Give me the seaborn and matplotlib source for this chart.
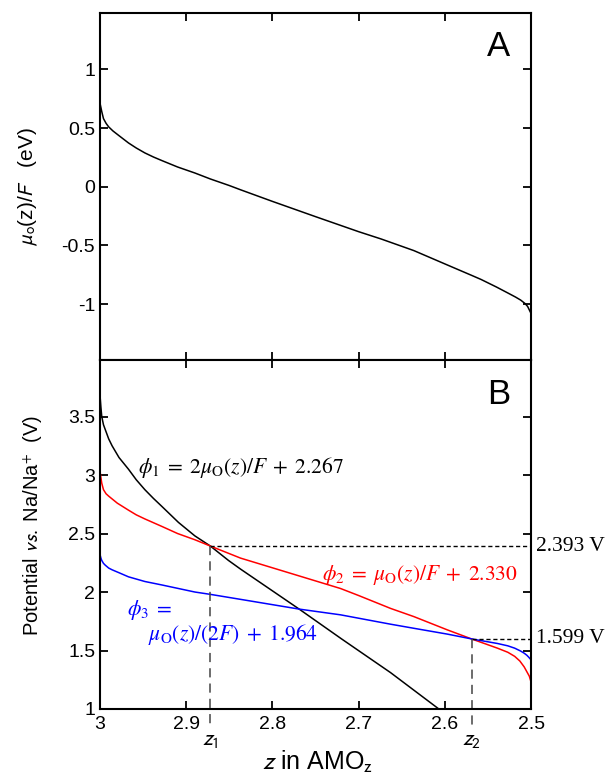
import numpy as np
import pandas as pd
import matplotlib
matplotlib.use("Agg")
import matplotlib.pyplot as plt
import seaborn as sns

# --- dados ---
# painel A: mu_O(z)/F
z_mu = [3.000, 2.998, 2.996, 2.993, 2.990, 2.985, 2.978, 2.967, 2.958, 2.948,
        2.938, 2.928, 2.910, 2.890, 2.872, 2.850, 2.837, 2.800, 2.750, 2.700,
        2.674, 2.636, 2.597, 2.569, 2.558, 2.540, 2.527, 2.518, 2.512, 2.507,
        2.504, 2.502, 2.500]
mu = [0.71, 0.64, 0.58, 0.54, 0.51, 0.475, 0.435, 0.373, 0.33, 0.288,
      0.253, 0.222, 0.168, 0.117, 0.066, 0.010, -0.026, -0.125, -0.255, -0.383,
      -0.445, -0.544, -0.667, -0.755, -0.79, -0.855, -0.905, -0.94, -0.966, -0.995,
      -1.02, -1.05, -1.08]

# painel B: phi1 (preto), phi2 (vermelho), phi3 (azul)
z_phi1 = [3.000, 2.999, 2.998, 2.996, 2.994, 2.990, 2.986, 2.978, 2.967, 2.958,
          2.948, 2.938, 2.928, 2.909, 2.890, 2.872, 2.851, 2.837, 2.800, 2.769,
          2.720, 2.663, 2.607, 2.600]
phi1 = [3.68, 3.58, 3.50, 3.43, 3.39, 3.31, 3.25, 3.15, 3.05, 2.96,
        2.875, 2.80, 2.73, 2.595, 2.48, 2.393, 2.27, 2.196, 2.01, 1.854,
        1.60, 1.311, 1.00, 0.96]

z_phi2 = [3.000, 2.999, 2.998, 2.996, 2.993, 2.990, 2.985, 2.980, 2.967, 2.958,
          2.948, 2.928, 2.910, 2.890, 2.872, 2.837, 2.779, 2.721, 2.700, 2.663,
          2.636, 2.597, 2.569, 2.539, 2.527, 2.519, 2.513, 2.508, 2.505, 2.502,
          2.500]
phi2 = [3.03, 2.98, 2.93, 2.875, 2.84, 2.82, 2.79, 2.76, 2.70, 2.66,
        2.625, 2.56, 2.50, 2.447, 2.393, 2.29, 2.16, 2.03, 1.97, 1.86,
        1.79, 1.676, 1.599, 1.52, 1.485, 1.45, 1.41, 1.36, 1.32, 1.28,
        1.23]

z_phi3 = [3.000, 2.999, 2.998, 2.996, 2.994, 2.990, 2.986, 2.978, 2.967, 2.948,
          2.928, 2.890, 2.872, 2.831, 2.769, 2.721, 2.663, 2.636, 2.597, 2.569,
          2.539, 2.527, 2.519, 2.512, 2.508, 2.505, 2.503, 2.500]
phi3 = [2.32, 2.29, 2.27, 2.245, 2.23, 2.205, 2.19, 2.165, 2.13, 2.09,
        2.06, 2.00, 1.98, 1.93, 1.854, 1.805, 1.725, 1.69, 1.64, 1.599,
        1.56, 1.54, 1.52, 1.495, 1.477, 1.46, 1.445, 1.42]

# pontos de cruzamento
z_cross = [2.872, 2.569]
v_cross = [2.393, 1.599]
cross_labels = ["2.393 V", "1.599 V"]
z_names = [r"$z_1$", r"$z_2$"]

x_ticks = [3, 2.9, 2.8, 2.7, 2.6, 2.5]
x_ticklabels = ["3", "2.9", "2.8", "2.7", "2.6", "2.5"]
ya_ticks = [-1, -0.5, 0, 0.5, 1]
ya_ticklabels = ["-1", "-0.5", "0", "0.5", "1"]
yb_ticks = [1, 1.5, 2, 2.5, 3, 3.5]
yb_ticklabels = ["1", "1.5", "2", "2.5", "3", "3.5"]

sns.set_style("ticks", {"xtick.direction": "in", "ytick.direction": "in"})
plt.rcParams["font.family"] = ["Liberation Sans", "DejaVu Sans"]
plt.rcParams["text.color"] = "black"
plt.rcParams["axes.labelcolor"] = "black"
plt.rcParams["axes.linewidth"] = 1.5
plt.rcParams["axes.edgecolor"] = "black"
plt.rcParams["xtick.major.width"] = 1.3
plt.rcParams["ytick.major.width"] = 1.3
plt.rcParams["xtick.major.size"] = 6
plt.rcParams["ytick.major.size"] = 6
plt.rcParams["xtick.color"] = "black"
plt.rcParams["ytick.color"] = "black"

fig = plt.figure(figsize=(6.10, 7.74), dpi=100)
ax_a = fig.add_axes([0.164, 0.5343, 0.7066, 0.4489])
ax_b = fig.add_axes([0.164, 0.0840, 0.7066, 0.4503])

# --- painel A ---
df_mu = pd.DataFrame({"z": z_mu, "mu": mu})
sns.lineplot(data=df_mu, x="z", y="mu", ax=ax_a, color="black", lw=1.1,
             estimator=None, sort=False)
ax_a.set_xlim(3, 2.5)
ax_a.set_ylim(-1.48, 1.48)
ax_a.set_xticks(x_ticks)
ax_a.set_xticklabels([])
ax_a.set_yticks(ya_ticks)
ax_a.set_yticklabels(ya_ticklabels, fontsize=14)
ax_a.tick_params(top=True, right=True, bottom=True, left=True)
ax_a.set_xlabel("")
ax_a.set_ylabel(r"$\mu_{\rm o}$(z)/$F$   (eV)", fontsize=15, va="center",
                math_fontfamily="stixsans")
ax_a.yaxis.set_label_coords(-0.167, 0.5)
ax_a.text(2.538, 1.197, "A", fontsize=25, ha="center", va="center")

# --- painel B ---
for zz, vv, cor in [(z_phi1, phi1, "black"), (z_phi2, phi2, "red"),
                    (z_phi3, phi3, "blue")]:
    df = pd.DataFrame({"z": zz, "phi": vv})
    sns.lineplot(data=df, x="z", y="phi", ax=ax_b, color=cor, lw=1.1,
                 estimator=None, sort=False)

ax_b.set_xlim(3, 2.5)
ax_b.set_ylim(1, 3.98)
ax_b.set_xticks(x_ticks)
ax_b.set_xticklabels(x_ticklabels, fontsize=14)
ax_b.set_yticks(yb_ticks)
ax_b.set_yticklabels(yb_ticklabels, fontsize=14)
ax_b.tick_params(top=True, right=True, bottom=True, left=True)
ax_b.tick_params(axis="x", pad=5)
ax_b.set_xlabel(r"$z$ in AMO$_{\rm z}$", fontsize=18, va="center",
                math_fontfamily="stixsans")
ax_b.xaxis.set_label_coords(0.505, -0.152)
ax_b.set_ylabel(r"Potential $vs.$ Na/Na$^{+}$  (V)", fontsize=14.5, va="center",
                math_fontfamily="stixsans")
ax_b.yaxis.set_label_coords(-0.155, 0.526)

# linhas tracejadas dos cruzamentos
y_low = 1 - 0.137
for zc, vc, lab, nome in zip(z_cross, v_cross, cross_labels, z_names):
    ax_b.plot([zc, 2.5], [vc, vc], color="black", lw=1, ls=(0, (3, 2)))
    ax_b.plot([zc, zc], [vc, y_low], color="#444444", lw=1.1,
              ls=(0, (6, 4)), clip_on=False)
    ax_b.text(1.012, vc, lab, transform=ax_b.get_yaxis_transform(),
              fontsize=15.5, family="Liberation Serif", ha="left", va="center")
    ax_b.text(zc, 0.735, nome, fontsize=16, ha="center", va="center",
              math_fontfamily="stixsans")

ax_b.text(2.956, 3.063, r"$\phi_1\;=\;2\mu_{\rm O}(z)/F\;+\;2.267$", fontsize=15.5,
          color="black", ha="left", va="center", math_fontfamily="stix")
ax_b.text(2.742, 2.147, r"$\phi_2\;=\;\mu_{\rm O}(z)/F\;+\;2.330$", fontsize=15.5,
          color="red", ha="left", va="center", math_fontfamily="stix")
ax_b.text(2.969, 1.848, r"$\phi_3\;=$", fontsize=15.5,
          color="blue", ha="left", va="center", math_fontfamily="stix")
ax_b.text(2.944, 1.634, r"$\mu_{\rm O}(z)/(2F)\;+\;1.964$", fontsize=15.5,
          color="blue", ha="left", va="center", math_fontfamily="stix")
ax_b.text(2.538, 3.69, "B", fontsize=25, ha="center", va="center")

fig.savefig("out.png", dpi=100)
